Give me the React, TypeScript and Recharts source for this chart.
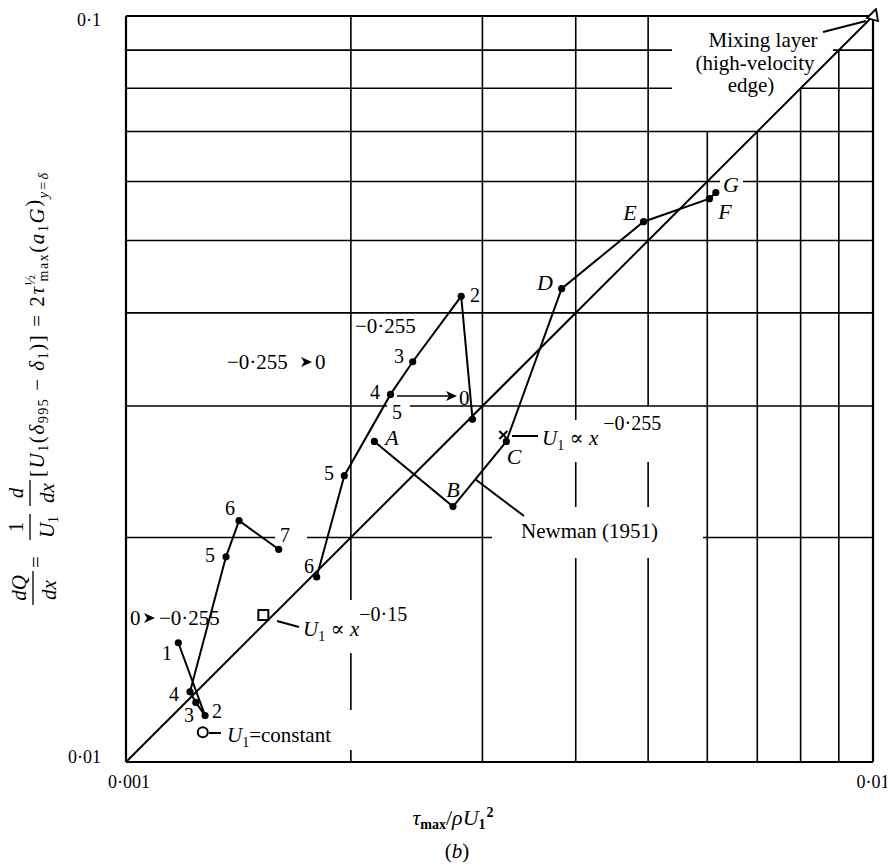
import React from "react";
import { ScatterChart, Scatter, XAxis, YAxis, ReferenceLine } from "recharts";

// Newman (1951) path A..G
const newmanLabels = ["A", "B", "C", "D", "E", "F", "G"];
const newmanX = [0.00215, 0.00274, 0.00323, 0.00383, 0.00493, 0.00604, 0.00616];
const newmanY = [0.0269, 0.022, 0.0269, 0.0431, 0.053, 0.0569, 0.058];

// upper numbered run (-0.255 -> 0)
const upperLabels = ["6", "5", "4", "3", "2", "5"];
const upperX = [0.0018, 0.00196, 0.00226, 0.00242, 0.00281, 0.00291];
const upperY = [0.0177, 0.0242, 0.0311, 0.0344, 0.0421, 0.0288];

// lower numbered run (0 -> -0.255)
const lowerLabels = ["1", "2", "3", "4", "5", "6", "7"];
const lowerX = [0.001175, 0.001276, 0.00124, 0.001218, 0.001361, 0.001417, 0.001601];
const lowerY = [0.01445, 0.01154, 0.01202, 0.01242, 0.01884, 0.02106, 0.01928];

// single cases
const squarePt = [{ x: 0.001527, y: 0.01574 }];
const circlePt = [{ x: 0.001267, y: 0.01096 }];
const crossPt = [{ x: 0.0032, y: 0.02744 }];
const trianglePt = [{ x: 0.01, y: 0.1 }];
const diagonal = [
  { x: 0.001, y: 0.01 },
  { x: 0.01, y: 0.1 },
];

const xTicks = [0.001, 0.01];
const yTicks = [0.01, 0.1];

// graph-paper rulings: [at, from, to]
const vGrid = [
  [0.001, 0.01, 0.1],
  [0.01, 0.01, 0.1],
  [0.002, 0.01649, 0.1],
  [0.002, 0.01174, 0.014],
  [0.002, 0.01, 0.01038],
  [0.003, 0.01, 0.1],
  [0.004, 0.02873, 0.1],
  [0.004, 0.02197, 0.02524],
  [0.004, 0.01, 0.01877],
  [0.005, 0.03, 0.1],
  [0.005, 0.02197, 0.02524],
  [0.005, 0.01, 0.01877],
  [0.006, 0.01, 0.07],
  [0.007, 0.01, 0.07],
  [0.008, 0.01, 0.08],
  [0.009, 0.01, 0.09],
];
const hGrid = [
  [0.01, 0.001, 0.01],
  [0.1, 0.001, 0.01],
  [0.09, 0.001, 0.005382],
  [0.09, 0.008841, 0.01],
  [0.08, 0.001, 0.005382],
  [0.08, 0.007986, 0.01],
  [0.07, 0.001, 0.01],
  [0.06, 0.001, 0.00624],
  [0.06, 0.006699, 0.01],
  [0.05, 0.001, 0.01],
  [0.04, 0.001, 0.01],
  [0.03, 0.001, 0.002236],
  [0.03, 0.002399, 0.01],
  [0.02, 0.001, 0.001583],
  [0.02, 0.001747, 0.00309],
  [0.02, 0.005921, 0.01],
];

const toPoints = (xs: number[], ys: number[]) => xs.map((x, i) => ({ x, y: ys[i] }));

const W = 887;
const H = 858;

const dot = (p: any) => <circle cx={p.cx} cy={p.cy} r={3.6} fill="#000" />;
const noDot = () => <g />;
const square = (p: any) => (
  <rect x={p.cx - 5} y={p.cy - 5} width={10} height={10} fill="#fff" stroke="#000" strokeWidth={2} />
);
const ring = (p: any) => <circle cx={p.cx} cy={p.cy} r={5} fill="#fff" stroke="#000" strokeWidth={2} />;
const cross = (p: any) => (
  <path d={`M${p.cx - 4},${p.cy - 4}L${p.cx + 4},${p.cy + 4}M${p.cx + 4},${p.cy - 4}L${p.cx - 4},${p.cy + 4}`} stroke="#000" strokeWidth={2} />
);
const triangle = (p: any) => (
  <path d={`M${p.cx - 6},${p.cy + 2}L${p.cx + 3},${p.cy - 7}L${p.cx + 5},${p.cy + 5}Z`} fill="#fff" stroke="#000" strokeWidth={1.8} />
);

const serif = "'Liberation Serif', 'DejaVu Serif', serif";
const line = { stroke: "#000", strokeWidth: 2 };

function Arrowhead({ x, y }: { x: number; y: number }) {
  return <path d={`M${x - 11},${y - 5}L${x},${y}L${x - 11},${y + 5}L${x - 8},${y}Z`} fill="#000" />;
}

function Overlay() {
  const num = { fontFamily: serif, fontSize: 20, fill: "#000", textAnchor: "middle" as const, dominantBaseline: "central" as const };
  const let_ = { ...num, fontSize: 22, fontStyle: "italic" };
  const txt = { fontFamily: serif, fontSize: 21, fill: "#000" };
  const sub = { fontSize: 14, fontStyle: "normal" };
  return (
    <svg width={W} height={H} style={{ position: "absolute", left: 0, top: 0, pointerEvents: "none", overflow: "visible" }}>
      <g transform="translate(-8,-8)">
        {/* letters */}
        {newmanLabels.map((l, i) => {
          const pos = [[392, 437], [453, 489], [514, 456], [545, 282], [630, 212], [725, 211], [731, 184]][i];
          return <text key={l} x={pos[0]} y={pos[1]} {...let_}>{l}</text>;
        })}
        {/* upper run labels */}
        {upperLabels.map((l, i) => {
          const pos = [[309, 566], [329, 473], [375, 392], [399, 356], [475, 295], [397, 412]][i];
          return <text key={"u" + i} x={pos[0]} y={pos[1]} {...num}>{l}</text>;
        })}
        {lowerLabels.map((l, i) => {
          const pos = [[167, 653], [217, 711], [189, 715], [174, 694], [210, 555], [230, 508], [285, 535]][i];
          return <text key={"l" + i} x={pos[0]} y={pos[1]} {...num}>{l}</text>;
        })}

        <text x={355} y={326} {...txt} dominantBaseline="central">−0·255</text>
        <text x={227} y={362} {...txt} dominantBaseline="central">−0·255</text>
        <Arrowhead x={312} y={362} />
        <text x={315} y={362} {...txt} dominantBaseline="central">0</text>
        {/* 4 -> 0 arrow */}
        <line x1={397} y1={396} x2={450} y2={396} {...line} strokeWidth={1.6} />
        <Arrowhead x={457} y={396} />
        <text x={459} y={398} {...txt} dominantBaseline="central">0</text>
        {/* 0 -> -0.255 */}
        <text x={130} y={618} {...txt} dominantBaseline="central">0</text>
        <Arrowhead x={155} y={618} />
        <text x={159} y={618} {...txt} dominantBaseline="central">−0·255</text>

        {/* leaders */}
        <line x1={277} y1={621} x2={299} y2={627} {...line} />
        <line x1={209} y1={733} x2={221} y2={733} {...line} />
        <line x1={512} y1={436} x2={538} y2={436} {...line} />
        <line x1={475} y1={479} x2={524} y2={516} {...line} />
        <line x1={823} y1={32} x2={866} y2={21} {...line} />

        <text x={303} y={636} {...txt}>
          <tspan fontStyle="italic">U</tspan>
          <tspan {...sub} dy={5}>1</tspan>
          <tspan dy={-5}> ∝ </tspan>
          <tspan fontStyle="italic">x</tspan>
          <tspan dy={-15} fontSize={20}>−0·15</tspan>
        </text>
        <text x={227} y={742} {...txt}>
          <tspan fontStyle="italic">U</tspan>
          <tspan {...sub} dy={5}>1</tspan>
          <tspan dy={-5}>=constant</tspan>
        </text>
        <text x={542} y={445} {...txt}>
          <tspan fontStyle="italic">U</tspan>
          <tspan {...sub} dy={5}>1</tspan>
          <tspan dy={-5}> ∝ </tspan>
          <tspan fontStyle="italic">x</tspan>
          <tspan dy={-15} fontSize={20}> −0·255</tspan>
        </text>
        <text x={521} y={538} {...txt}>Newman (1951)</text>
        <text x={763} y={47} {...txt} textAnchor="middle">Mixing layer</text>
        <text x={755} y={70} {...txt} textAnchor="middle">(high-velocity</text>
        <text x={751} y={92} {...txt} textAnchor="middle">edge)</text>

        {/* x title */}
        <text x={453} y={825} {...txt} fontSize={22} textAnchor="middle">
          <tspan fontStyle="italic">τ</tspan>
          <tspan fontSize={14} dy={4} fontWeight="bold">max</tspan>
          <tspan dy={-4}>/</tspan>
          <tspan fontStyle="italic">ρU</tspan>
          <tspan fontSize={14} dy={4} fontWeight="bold">1</tspan>
          <tspan fontSize={14} dx={1} dy={-12} fontWeight="bold">2</tspan>
        </text>
        <text x={457} y={858} {...txt} textAnchor="middle">
          (<tspan fontStyle="italic">b</tspan>)
        </text>

        {/* y title, rotated */}
        <g transform="rotate(-90)" fontFamily={serif} fill="#000" fontSize={21}>
          <text x={-588} y={26} textAnchor="middle" fontStyle="italic">dQ</text>
          <line x1={-605} x2={-571} y1={33} y2={33} stroke="#000" strokeWidth={1.3} />
          <text x={-590} y={56} textAnchor="middle" fontStyle="italic">dx</text>
          <text x={-562} y={43} textAnchor="middle">=</text>
          <text x={-527} y={23} textAnchor="middle">1</text>
          <line x1={-540} x2={-514} y1={30} y2={30} stroke="#000" strokeWidth={1.3} />
          <text x={-527} y={54} textAnchor="middle">
            <tspan fontStyle="italic">U</tspan>
            <tspan fontSize={14} dy={4}>1</tspan>
          </text>
          <text x={-493} y={23} textAnchor="middle" fontStyle="italic">d</text>
          <line x1={-506} x2={-480} y1={30} y2={30} stroke="#000" strokeWidth={1.3} />
          <text x={-493} y={54} textAnchor="middle" fontStyle="italic">dx</text>
          <text x={-477} y={44} textLength={304} lengthAdjust="spacing">
            [<tspan fontStyle="italic">U</tspan>
            <tspan fontSize={14} dy={4}>1</tspan>
            <tspan dy={-4}>(</tspan>
            <tspan fontStyle="italic">δ</tspan>
            <tspan fontSize={14} dy={4}>995</tspan>
            <tspan dy={-4}> − </tspan>
            <tspan fontStyle="italic">δ</tspan>
            <tspan fontSize={14} dy={4}>1</tspan>
            <tspan dy={-4}>)] = 2</tspan>
            <tspan fontStyle="italic">τ</tspan>
            <tspan fontSize={14} dy={-9}>½</tspan>
            <tspan fontSize={14} dy={13} dx={-8}>max</tspan>
            <tspan dy={-4}>(</tspan>
            <tspan fontStyle="italic">a</tspan>
            <tspan fontSize={14} dy={4}>1</tspan>
            <tspan dy={-4} fontStyle="italic">G</tspan>
            <tspan dy={-4}>)</tspan>
            <tspan fontSize={14} dy={8} fontStyle="italic">y=δ</tspan>
          </text>
        </g>
      </g>
    </svg>
  );
}

const xTick = (p: any) => {
  const v = p.payload.value;
  return (
    <text x={p.x + (v < 0.005 ? 3 : 0)} y={p.y + 24} textAnchor="middle" fontFamily={serif} fontSize={18} fill="#000">
      {String(v).replace(".", "·")}
    </text>
  );
};
const yTick = (p: any) => {
  const v = p.payload.value;
  return (
    <text x={p.x - 23} y={p.y + (v > 0.05 ? 9 : 1)} textAnchor="end" fontFamily={serif} fontSize={18} fill="#000">
      {String(v).replace(".", "·")}
    </text>
  );
};

export default function App() {
  return (
    <div style={{ position: "relative", width: W, height: H, background: "#fff" }}>
      <ScatterChart width={W} height={H} margin={{ top: 8, right: 22, bottom: 64, left: 58 }} style={{ overflow: "visible" }}>
        <XAxis
          dataKey="x"
          type="number"
          scale="log"
          domain={[0.001, 0.01]}
          ticks={xTicks}
          axisLine={false}
          tickLine={false}
          tickSize={0}
          height={40}
          tick={xTick}
        />
        <YAxis
          dataKey="y"
          type="number"
          scale="log"
          domain={[0.01, 0.1]}
          ticks={yTicks}
          axisLine={false}
          tickLine={false}
          tickSize={0}
          width={60}
          tick={yTick}
        />
        {vGrid.map(([x, y1, y2], i) => (
          <ReferenceLine
            key={"v" + i}
            segment={[
              { x, y: y1 },
              { x, y: y2 },
            ]}
            stroke="#000"
            strokeWidth={x === 0.001 || x === 0.01 ? 2.2 : 1.6}
            ifOverflow="visible"
          />
        ))}
        {hGrid.map(([y, x1, x2], i) => (
          <ReferenceLine
            key={"h" + i}
            segment={[
              { x: x1, y },
              { x: x2, y },
            ]}
            stroke="#000"
            strokeWidth={y === 0.01 || y === 0.1 ? 2.2 : 1.6}
            ifOverflow="visible"
          />
        ))}
        <Scatter data={diagonal} line={line} shape={noDot} isAnimationActive={false} />
        <Scatter data={toPoints(newmanX, newmanY)} line={line} shape={dot} isAnimationActive={false} />
        <Scatter data={toPoints(upperX, upperY)} line={line} shape={dot} isAnimationActive={false} />
        <Scatter data={toPoints(lowerX, lowerY)} line={line} shape={dot} isAnimationActive={false} />
        <Scatter data={squarePt} shape={square} isAnimationActive={false} />
        <Scatter data={circlePt} shape={ring} isAnimationActive={false} />
        <Scatter data={crossPt} shape={cross} isAnimationActive={false} />
        <Scatter data={trianglePt} shape={triangle} isAnimationActive={false} />
      </ScatterChart>
      <Overlay />
    </div>
  );
}
